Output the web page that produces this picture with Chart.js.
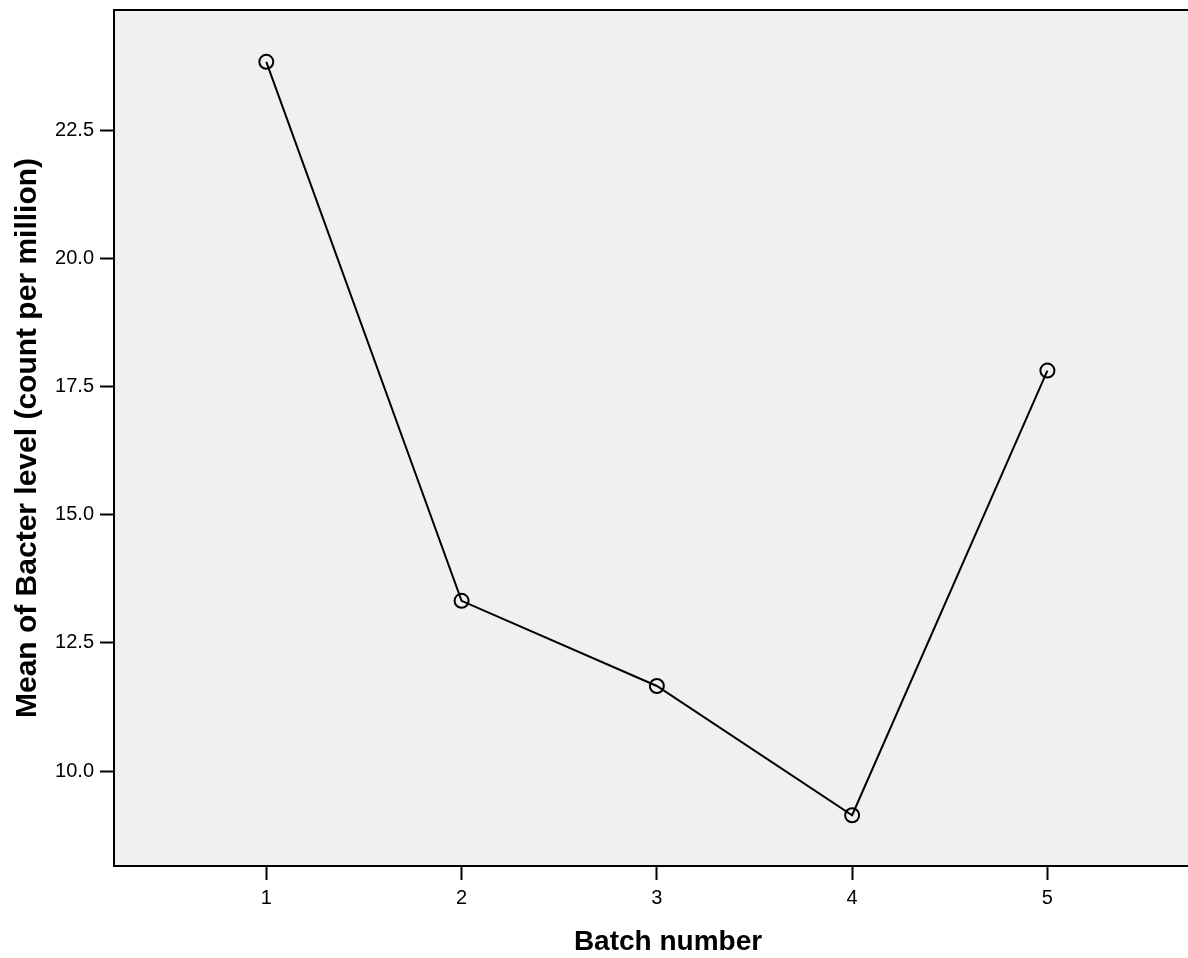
<!DOCTYPE html>
<html>
<head>
<meta charset="utf-8">
<script src="https://cdn.jsdelivr.net/npm/chart.js@4/dist/chart.umd.min.js"></script>
<style>
  html, body { margin: 0; padding: 0; background: #fff; overflow: hidden; }
  canvas { display: block; position: absolute; left: 0; top: 0; }
</style>
</head>
<body>
<canvas id="grafico" width="1188" height="958" style="width:1188px;height:958px"></canvas>
<script>
const lotes = [1, 2, 3, 4, 5];
const medias = [23.83, 13.32, 11.66, 9.14, 17.81];
const ticksY = [10.0, 12.5, 15.0, 17.5, 20.0, 22.5];
const ticksX = [1, 2, 3, 4, 5];
const tituloX = "Batch number";
const tituloY = "Mean of Bacter level (count per million)";

const fonte = "'Liberation Sans', Arial, sans-serif";

const fundoArea = {
  id: "fundoArea",
  beforeDraw(chart) {
    const { ctx, chartArea: a } = chart;
    ctx.save();
    ctx.fillStyle = "#f0f0f0";
    ctx.fillRect(a.left, a.top, a.right - a.left, a.bottom - a.top);
    ctx.restore();
  },
  afterDraw(chart) {
    const { ctx, chartArea: a } = chart;
    ctx.save();
    ctx.strokeStyle = "#000";
    ctx.lineWidth = 2;
    ctx.beginPath();
    ctx.moveTo(a.left - 1, a.top);
    ctx.lineTo(a.right, a.top);
    ctx.stroke();

    // titulo do eixo x, um pouco deslocado para a direita como no original
    ctx.fillStyle = "#000";
    ctx.font = "bold 28px " + fonte;
    ctx.textAlign = "center";
    ctx.textBaseline = "middle";
    ctx.fillText(tituloX, 668, 942);
    ctx.restore();
  },
};

const semPadding = (s) => {
  s.paddingTop = 0;
  s.paddingBottom = 0;
  s.paddingLeft = 0;
  s.paddingRight = 0;
};

new Chart(document.getElementById("grafico"), {
  type: "line",
  data: {
    datasets: [
      {
        label: "Mean of Bacter level",
        data: lotes.map((l, i) => ({ x: l, y: medias[i] })),
        borderColor: "#000",
        borderWidth: 2,
        pointRadius: 7,
        pointBorderWidth: 2,
        pointBorderColor: "#000",
        pointBackgroundColor: "rgba(0,0,0,0)",
        tension: 0,
      },
    ],
  },
  plugins: [fundoArea],
  options: {
    responsive: false,
    animation: false,
    devicePixelRatio: 1,
    layout: { autoPadding: false, padding: { top: 10, right: 0, left: 0, bottom: 0 } },
    plugins: {
      legend: { display: false },
      tooltip: { enabled: false },
    },
    scales: {
      x: {
        type: "linear",
        min: 0.22,
        max: 5.72,
        afterBuildTicks: (s) => { s.ticks = ticksX.map((v) => ({ value: v })); },
        afterFit: (s) => { s.height = 92; semPadding(s); },
        ticks: {
          color: "#000",
          font: { family: fonte, size: 20 },
          padding: 6,
          callback: (v) => String(v),
        },
        grid: {
          drawOnChartArea: false,
          tickLength: 14,
          tickColor: "#000",
          tickWidth: 2,
        },
        border: { display: true, color: "#000", width: 2 },
      },
      y: {
        min: 8.15,
        max: 24.84,
        afterBuildTicks: (s) => { s.ticks = ticksY.map((v) => ({ value: v })); },
        afterFit: (s) => { s.width = 114; semPadding(s); },
        ticks: {
          color: "#000",
          font: { family: fonte, size: 20 },
          padding: 6,
          callback: (v) => Number(v).toFixed(1),
        },
        grid: {
          drawOnChartArea: false,
          tickLength: 14,
          tickColor: "#000",
          tickWidth: 2,
        },
        border: { display: true, color: "#000", width: 2 },
        title: {
          display: true,
          text: tituloY,
          color: "#000",
          font: { family: fonte, size: 30, weight: "bold" },
          padding: { top: 10, bottom: 0 },
        },
      },
    },
  },
});
</script>
</body>
</html>
